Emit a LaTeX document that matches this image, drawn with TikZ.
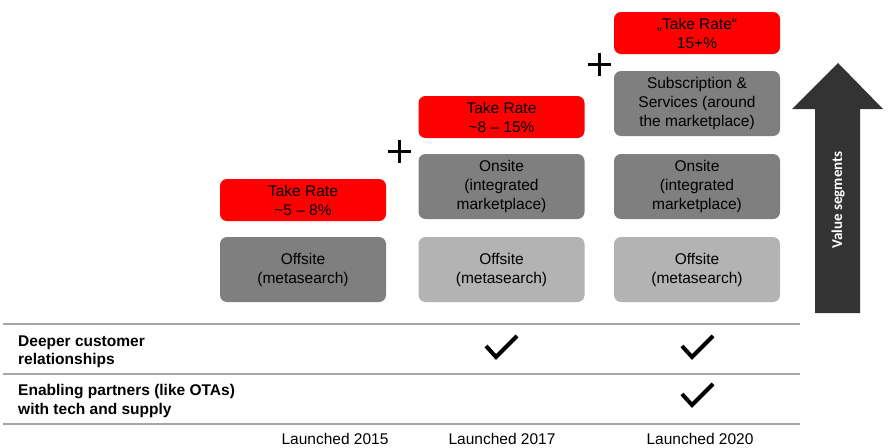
\documentclass[tikz,border=0pt]{standalone}
\usepackage{fontspec}
\setmainfont{Liberation Sans}
\newfontfamily\valuefont{Carlito}
\usepackage{tikz}

\definecolor{segdark}{HTML}{7F7F7F}
\definecolor{seglight}{HTML}{B3B3B3}
\definecolor{arrowgray}{HTML}{333333}
\definecolor{rulegray}{HTML}{A6A6A6}

\begin{document}
\begin{tikzpicture}[x=1pt,y=-1pt,
    box/.style={rounded corners=7pt, minimum width=166pt, inner sep=0pt, align=center,
        font=\fontsize{15.5}{19}\selectfont},
    rate/.style={box, fill=red, minimum height=42pt},
    seg/.style={box, fill=segdark, minimum height=65pt},
    rowlabel/.style={anchor=west, align=left, inner sep=0pt,
        font=\bfseries\fontsize{15.5}{18.5}\selectfont},
    launch/.style={anchor=base, inner sep=0pt, font=\fontsize{15.5}{19}\selectfont}]

\useasboundingbox (0,0) rectangle (893,447);

\node[rate] (rate1) at (303,200) {Take Rate\\\textasciitilde5 -- 8\%};
\node[rate] (rate2) at (501.5,117) {Take Rate\\\textasciitilde8 -- 15\%};
\node[rate] (rate3) at (697,33) {„Take Rate“\\15+\%};

\node[seg] (off1) at (303,269.5) {Offsite\\(metasearch)};
\foreach \x/\n in {501.5/2,697/3}
    \node[seg, fill=seglight] (off\n) at (\x,269.5) {Offsite\\(metasearch)};
\foreach \x/\n in {501.5/2,697/3}
    \node[seg] (on\n) at (\x,186.5) {Onsite\\(integrated\\marketplace)};
\node[seg] (sub3) at (697,103.5) {Subscription \&\\Services (around\\the marketplace)};

\coordinate (plus1) at (399,151);
\coordinate (plus2) at (599,64);
\foreach \p in {plus1,plus2}
    \draw[line width=3pt, shift={(\p)}] (-11.5,0) -- (11.5,0) (0,-11.5) -- (0,11.5);

\fill[arrowgray] (815,313) -- (815,109) -- (792,109) -- (838,63) -- (883,109)
    -- (860,109) -- (860,313) -- cycle;
\node[rotate=90, text=white, font=\valuefont\bfseries\fontsize{15}{18}\selectfont]
    (value) at (838,200) {Value segments};

\foreach \y in {324,374,424}
    \draw[rulegray, line width=1.5pt] (3,\y) -- (800,\y);

\node[rowlabel] (deeper) at (18,352) {Deeper customer\\relationships};
\node[rowlabel] (enabling) at (18,401) {Enabling partners (like OTAs)\\with tech and supply};

\coordinate (chk1) at (502,347);
\coordinate (chk2) at (698,347);
\coordinate (chk3) at (698,395);
\foreach \c in {chk1,chk2,chk3}
    \draw[line width=4pt, shift={(\c)}] (-16,-1) -- (-6,10) -- (15,-11);

\node[launch] (l2015) at (335,444) {Launched 2015};
\node[launch] (l2017) at (502,444) {Launched 2017};
\node[launch] (l2020) at (700,444) {Launched 2020};

\end{tikzpicture}
\end{document}
